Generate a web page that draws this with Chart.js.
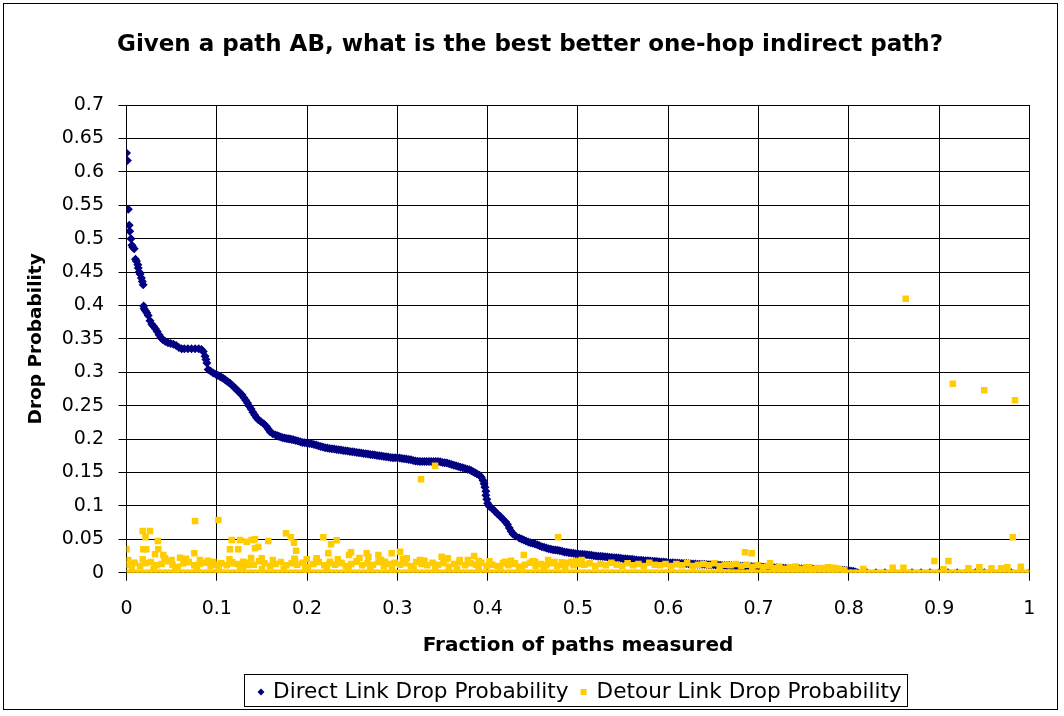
<!DOCTYPE html>
<html>
<head>
<meta charset="utf-8">
<script src="https://cdn.jsdelivr.net/npm/chart.js@4.4.0/dist/chart.umd.min.js"></script>
<style>
body { margin: 0; background: #fff; }
</style>
</head>
<body>
<canvas id="chart" width="1064" height="716"></canvas>
<script>
const chartTitle = 'Given a path AB, what is the best better one-hop indirect path?'
const xTitle = 'Fraction of paths measured'
const yTitle = 'Drop Probability'
const seriesNames = ['Direct Link Drop Probability', 'Detour Link Drop Probability']
const seriesColors = ['#000080', '#FFCC00']
const fontFamily = 'DejaVu Sans'

// direct link, sorted: [fraction of paths, drop probability]
const directPoints = [
    [0.000, 0.628], [0.001, 0.617], [0.002, 0.544], [0.003, 0.520], [0.0035, 0.511],
    [0.005, 0.500], [0.006, 0.490], [0.007, 0.487], [0.0085, 0.485], [0.010, 0.469],
    [0.011, 0.466], [0.0125, 0.461], [0.013, 0.456], [0.014, 0.450], [0.015, 0.447],
    [0.0165, 0.441], [0.0175, 0.436], [0.0185, 0.431], [0.019, 0.399], [0.0195, 0.395],
    [0.021, 0.392], [0.0225, 0.389], [0.024, 0.385], [0.026, 0.377], [0.028, 0.372],
    [0.030, 0.369], [0.032, 0.365], [0.034, 0.361], [0.036, 0.356], [0.038, 0.352],
    [0.040, 0.349], [0.043, 0.346], [0.046, 0.344], [0.049, 0.343], [0.052, 0.342],
    [0.055, 0.340], [0.058, 0.337], [0.061, 0.335], [0.064, 0.335], [0.068, 0.335],
    [0.072, 0.335], [0.076, 0.335], [0.080, 0.335], [0.083, 0.334], [0.085, 0.331],
    [0.087, 0.324], [0.088, 0.319], [0.089, 0.314], [0.0905, 0.304], [0.093, 0.302],
    [0.096, 0.299], [0.099, 0.297], [0.103, 0.294], [0.107, 0.291], [0.111, 0.287],
    [0.115, 0.283], [0.119, 0.278], [0.122, 0.274], [0.125, 0.270], [0.128, 0.266],
    [0.130, 0.262], [0.132, 0.258], [0.134, 0.254], [0.136, 0.249], [0.138, 0.245],
    [0.140, 0.240], [0.142, 0.236], [0.144, 0.232], [0.146, 0.229], [0.149, 0.226],
    [0.152, 0.223], [0.155, 0.219], [0.157, 0.215], [0.159, 0.211], [0.162, 0.208],
    [0.165, 0.206], [0.169, 0.204], [0.173, 0.202], [0.177, 0.201], [0.181, 0.200],
    [0.185, 0.199], [0.190, 0.197], [0.195, 0.195], [0.200, 0.194], [0.205, 0.193],
    [0.210, 0.191], [0.215, 0.189], [0.220, 0.187], [0.225, 0.186], [0.230, 0.185],
    [0.235, 0.184], [0.240, 0.183], [0.245, 0.182], [0.250, 0.181], [0.255, 0.180],
    [0.260, 0.179], [0.265, 0.178], [0.270, 0.177], [0.275, 0.176], [0.280, 0.175],
    [0.285, 0.174], [0.290, 0.173], [0.295, 0.172], [0.300, 0.172], [0.305, 0.171],
    [0.310, 0.170], [0.315, 0.169], [0.320, 0.167], [0.325, 0.1665], [0.330, 0.1665],
    [0.335, 0.1665], [0.340, 0.1665], [0.345, 0.1665], [0.350, 0.165], [0.355, 0.164],
    [0.360, 0.162], [0.365, 0.160], [0.370, 0.158], [0.375, 0.156], [0.380, 0.154],
    [0.384, 0.151], [0.388, 0.148], [0.391, 0.146], [0.393, 0.143], [0.395, 0.138],
    [0.396, 0.133], [0.397, 0.128], [0.398, 0.122], [0.398, 0.116], [0.399, 0.110],
    [0.400, 0.104], [0.402, 0.099], [0.405, 0.096], [0.408, 0.092], [0.411, 0.088],
    [0.414, 0.084], [0.417, 0.080], [0.420, 0.076], [0.422, 0.072], [0.424, 0.067],
    [0.426, 0.062], [0.428, 0.058], [0.431, 0.055], [0.435, 0.052], [0.440, 0.049],
    [0.445, 0.046], [0.450, 0.044], [0.455, 0.042], [0.460, 0.039], [0.465, 0.037],
    [0.470, 0.035], [0.475, 0.034], [0.480, 0.033], [0.485, 0.031], [0.490, 0.030],
    [0.495, 0.029], [0.500, 0.028], [0.505, 0.0275], [0.510, 0.027], [0.515, 0.026],
    [0.520, 0.025], [0.525, 0.0245], [0.530, 0.024], [0.535, 0.023], [0.540, 0.0225],
    [0.545, 0.022], [0.550, 0.021], [0.555, 0.0205], [0.560, 0.020], [0.565, 0.019],
    [0.570, 0.0185], [0.575, 0.018], [0.580, 0.0175], [0.585, 0.017], [0.590, 0.0165],
    [0.595, 0.016], [0.600, 0.015], [0.605, 0.0148], [0.610, 0.0144], [0.615, 0.014],
    [0.620, 0.0137], [0.625, 0.0134], [0.630, 0.013], [0.635, 0.0127], [0.640, 0.0125],
    [0.645, 0.012], [0.650, 0.0118], [0.655, 0.0115], [0.660, 0.011], [0.665, 0.0108],
    [0.670, 0.0105], [0.675, 0.010], [0.680, 0.0098], [0.685, 0.0095], [0.690, 0.0092],
    [0.695, 0.009], [0.700, 0.0086], [0.705, 0.0082], [0.710, 0.008], [0.715, 0.0076],
    [0.720, 0.0073], [0.725, 0.007], [0.730, 0.0066], [0.735, 0.0064], [0.740, 0.0062],
    [0.745, 0.006], [0.750, 0.0058], [0.755, 0.0056], [0.760, 0.0054], [0.765, 0.0052],
    [0.770, 0.005], [0.775, 0.0048], [0.780, 0.0045], [0.785, 0.0042], [0.790, 0.004],
    [0.795, 0.0035], [0.800, 0.003], [0.805, 0.002], [0.810, 0.000], [0.815, 0.000],
    [0.82, 0], [0.83, 0], [0.84, 0], [0.85, 0], [0.86, 0], [0.87, 0], [0.88, 0],
    [0.89, 0], [0.90, 0], [0.91, 0], [0.92, 0], [0.93, 0], [0.94, 0], [0.95, 0],
    [0.96, 0], [0.97, 0], [0.98, 0], [0.99, 0], [1.00, 0]
]

// direct link: further readings where the curve is densely packed
const directDense = [
    [0.101, 0.2955], [0.105, 0.2925], [0.109, 0.289], [0.113, 0.285], [0.117, 0.2805], [0.1205, 0.276],
    [0.1235, 0.272], [0.1265, 0.268], [0.1675, 0.205], [0.171, 0.203], [0.175, 0.2015], [0.179, 0.2005],
    [0.183, 0.1995], [0.1875, 0.198], [0.1925, 0.196], [0.1975, 0.1945], [0.2025, 0.1935], [0.2075, 0.192],
    [0.2125, 0.190], [0.2175, 0.188], [0.2225, 0.1865], [0.2275, 0.1855], [0.2325, 0.1845], [0.2375, 0.1835],
    [0.2425, 0.1825], [0.2475, 0.1815], [0.2525, 0.1805], [0.2575, 0.1795], [0.2625, 0.1785], [0.2675, 0.1775],
    [0.2725, 0.1765], [0.2775, 0.1755], [0.2825, 0.1745], [0.2875, 0.1735], [0.2925, 0.1725], [0.2975, 0.172],
    [0.3025, 0.1715], [0.3075, 0.1705], [0.3125, 0.1695], [0.3175, 0.168], [0.3225, 0.1668], [0.3275, 0.1665],
    [0.3325, 0.1665], [0.3375, 0.1665], [0.3425, 0.1665], [0.3475, 0.166], [0.3525, 0.1645], [0.3575, 0.163],
    [0.3625, 0.161], [0.3675, 0.159], [0.3725, 0.157], [0.3775, 0.155], [0.382, 0.1525], [0.386, 0.1495],
    [0.4375, 0.0505], [0.4425, 0.0475], [0.4475, 0.045], [0.4525, 0.043], [0.4575, 0.0405], [0.4625, 0.038],
    [0.4675, 0.036], [0.4725, 0.0345], [0.4775, 0.0335], [0.4825, 0.032], [0.4875, 0.0305], [0.4925, 0.0295],
    [0.4975, 0.0285], [0.5025, 0.0278], [0.5075, 0.0272], [0.5125, 0.0265], [0.5175, 0.0255], [0.5225, 0.0248],
    [0.5275, 0.0242], [0.5325, 0.0235], [0.5375, 0.0228], [0.5425, 0.0222], [0.5475, 0.0215], [0.5525, 0.0208],
    [0.5575, 0.0202], [0.5625, 0.0195], [0.5675, 0.0188], [0.5725, 0.0182], [0.5775, 0.0178], [0.5825, 0.0172],
    [0.5875, 0.0168], [0.5925, 0.0162], [0.5975, 0.0155], [0.6025, 0.0149], [0.6075, 0.0146], [0.6125, 0.0142],
    [0.6175, 0.0138], [0.6225, 0.0135], [0.6275, 0.0132], [0.6325, 0.0128], [0.6375, 0.0126], [0.6425, 0.0122],
    [0.6475, 0.0119], [0.6525, 0.0116], [0.6575, 0.0112], [0.6625, 0.0109], [0.6675, 0.0106], [0.6725, 0.0102],
    [0.6775, 0.0099], [0.6825, 0.0096], [0.6875, 0.0093], [0.6925, 0.0091], [0.6975, 0.0088], [0.7025, 0.0084],
    [0.7075, 0.0081], [0.7125, 0.0078], [0.7175, 0.0074], [0.7225, 0.0071], [0.7275, 0.0068], [0.7325, 0.0065],
    [0.7375, 0.0063], [0.7425, 0.0061], [0.7475, 0.0059], [0.7525, 0.0057], [0.7575, 0.0055], [0.7625, 0.0053],
    [0.7675, 0.0051], [0.7725, 0.0049], [0.7775, 0.0046], [0.7825, 0.0043], [0.7875, 0.0041], [0.7925, 0.0037],
    [0.7975, 0.0032], [0.8025, 0.0025], [0.8075, 0.001]
]

// detour link: paths whose best detour has no loss
const detourBase = [
    [0, 0], [0.005, 0], [0.01, 0], [0.015, 0], [0.02, 0], [0.025, 0], [0.03, 0], [0.035, 0], [0.04, 0], [0.045, 0],
    [0.05, 0], [0.055, 0], [0.06, 0], [0.065, 0], [0.07, 0], [0.075, 0], [0.08, 0], [0.085, 0], [0.09, 0], [0.095, 0],
    [0.1, 0], [0.105, 0], [0.11, 0], [0.115, 0], [0.12, 0], [0.125, 0], [0.13, 0], [0.135, 0], [0.14, 0], [0.145, 0],
    [0.15, 0], [0.155, 0], [0.16, 0], [0.165, 0], [0.17, 0], [0.175, 0], [0.18, 0], [0.185, 0], [0.19, 0], [0.195, 0],
    [0.2, 0], [0.205, 0], [0.21, 0], [0.215, 0], [0.22, 0], [0.225, 0], [0.23, 0], [0.235, 0], [0.24, 0], [0.245, 0],
    [0.25, 0], [0.255, 0], [0.26, 0], [0.265, 0], [0.27, 0], [0.275, 0], [0.28, 0], [0.285, 0], [0.29, 0], [0.295, 0],
    [0.3, 0], [0.305, 0], [0.31, 0], [0.315, 0], [0.32, 0], [0.325, 0], [0.33, 0], [0.335, 0], [0.34, 0], [0.345, 0],
    [0.35, 0], [0.355, 0], [0.36, 0], [0.365, 0], [0.37, 0], [0.375, 0], [0.38, 0], [0.385, 0], [0.39, 0], [0.395, 0],
    [0.4, 0], [0.405, 0], [0.41, 0], [0.415, 0], [0.42, 0], [0.425, 0], [0.43, 0], [0.435, 0], [0.44, 0], [0.445, 0],
    [0.45, 0], [0.455, 0], [0.46, 0], [0.465, 0], [0.47, 0], [0.475, 0], [0.48, 0], [0.485, 0], [0.49, 0], [0.495, 0],
    [0.5, 0], [0.505, 0], [0.51, 0], [0.515, 0], [0.52, 0], [0.525, 0], [0.53, 0], [0.535, 0], [0.54, 0], [0.545, 0],
    [0.55, 0], [0.555, 0], [0.56, 0], [0.565, 0], [0.57, 0], [0.575, 0], [0.58, 0], [0.585, 0], [0.59, 0], [0.595, 0],
    [0.6, 0], [0.605, 0], [0.61, 0], [0.615, 0], [0.62, 0], [0.625, 0], [0.63, 0], [0.635, 0], [0.64, 0], [0.645, 0],
    [0.65, 0], [0.655, 0], [0.66, 0], [0.665, 0], [0.67, 0], [0.675, 0], [0.68, 0], [0.685, 0], [0.69, 0], [0.695, 0],
    [0.7, 0], [0.705, 0], [0.71, 0], [0.715, 0], [0.72, 0], [0.725, 0], [0.73, 0], [0.735, 0], [0.74, 0], [0.745, 0],
    [0.75, 0], [0.755, 0], [0.76, 0], [0.765, 0], [0.77, 0], [0.775, 0], [0.78, 0], [0.785, 0], [0.79, 0], [0.795, 0],
    [0.8, 0], [0.805, 0], [0.81, 0], [0.815, 0], [0.82, 0], [0.825, 0], [0.83, 0], [0.835, 0], [0.84, 0], [0.845, 0],
    [0.85, 0], [0.855, 0], [0.86, 0], [0.865, 0], [0.87, 0], [0.875, 0], [0.88, 0], [0.885, 0], [0.89, 0], [0.895, 0],
    [0.9, 0], [0.905, 0], [0.91, 0], [0.915, 0], [0.92, 0], [0.925, 0], [0.93, 0], [0.935, 0], [0.94, 0], [0.945, 0],
    [0.95, 0], [0.955, 0], [0.96, 0], [0.965, 0], [0.97, 0], [0.975, 0], [0.98, 0], [0.985, 0], [0.99, 0], [0.995, 0],
    [1, 0]
]

// detour link: small losses
const detourLow = [
    [0.003, 0.012], [0.009, 0.015], [0.015, 0.010], [0.021, 0.014], [0.027, 0.016], [0.033, 0.011],
    [0.039, 0.013], [0.045, 0.017], [0.051, 0.012], [0.057, 0.009], [0.063, 0.014], [0.069, 0.016],
    [0.075, 0.011], [0.081, 0.013], [0.087, 0.015], [0.093, 0.010], [0.099, 0.012],
    [0.105, 0.014], [0.111, 0.011], [0.117, 0.016], [0.123, 0.013], [0.129, 0.009], [0.135, 0.015],
    [0.141, 0.012], [0.147, 0.017], [0.153, 0.014], [0.159, 0.010], [0.165, 0.013], [0.171, 0.016],
    [0.177, 0.011], [0.183, 0.014], [0.189, 0.012], [0.195, 0.015], [0.201, 0.009],
    [0.207, 0.013], [0.213, 0.016], [0.219, 0.011], [0.225, 0.014], [0.231, 0.012], [0.237, 0.015],
    [0.243, 0.010], [0.249, 0.013], [0.255, 0.017], [0.261, 0.011], [0.267, 0.014], [0.273, 0.012],
    [0.279, 0.016], [0.285, 0.010], [0.291, 0.013], [0.297, 0.015],
    [0.303, 0.012], [0.309, 0.014], [0.315, 0.010], [0.321, 0.016], [0.327, 0.013], [0.333, 0.011],
    [0.339, 0.015], [0.345, 0.012], [0.351, 0.014], [0.357, 0.009], [0.363, 0.013], [0.369, 0.016],
    [0.375, 0.011], [0.381, 0.014], [0.387, 0.012], [0.393, 0.015], [0.399, 0.010],
    [0.405, 0.012], [0.411, 0.010], [0.417, 0.014], [0.423, 0.011], [0.429, 0.013], [0.435, 0.009],
    [0.441, 0.012], [0.447, 0.015], [0.453, 0.010], [0.459, 0.013], [0.465, 0.011], [0.471, 0.014],
    [0.477, 0.010], [0.483, 0.012], [0.489, 0.015], [0.495, 0.011], [0.501, 0.013],
    [0.507, 0.012], [0.513, 0.014], [0.519, 0.010], [0.525, 0.013], [0.531, 0.011], [0.537, 0.015],
    [0.543, 0.012], [0.549, 0.010], [0.555, 0.014], [0.561, 0.011], [0.567, 0.013], [0.573, 0.010],
    [0.579, 0.015], [0.585, 0.012], [0.591, 0.011], [0.597, 0.013],
    [0.603, 0.010], [0.609, 0.013], [0.615, 0.011], [0.621, 0.014], [0.627, 0.010], [0.633, 0.012],
    [0.639, 0.013], [0.645, 0.011], [0.651, 0.014], [0.657, 0.010], [0.663, 0.012], [0.669, 0.011],
    [0.675, 0.013], [0.681, 0.010], [0.687, 0.012], [0.693, 0.009], [0.699, 0.011],
    [0.705, 0.008], [0.711, 0.010], [0.717, 0.007], [0.723, 0.009], [0.729, 0.006], [0.735, 0.008],
    [0.741, 0.009], [0.747, 0.006], [0.753, 0.008], [0.759, 0.005], [0.765, 0.007], [0.771, 0.006],
    [0.777, 0.008], [0.783, 0.005], [0.789, 0.006], [0.795, 0.004]
]

// detour link: a second layer of small losses on the left half
const detourMid = [
    [0.006, 0.006], [0.018, 0.020], [0.030, 0.006], [0.042, 0.019], [0.054, 0.005], [0.066, 0.021],
    [0.078, 0.006], [0.090, 0.018], [0.102, 0.005], [0.114, 0.020], [0.126, 0.006], [0.138, 0.022],
    [0.150, 0.005], [0.162, 0.019], [0.174, 0.006], [0.186, 0.021], [0.198, 0.005], [0.210, 0.018],
    [0.222, 0.006], [0.234, 0.020], [0.246, 0.005], [0.258, 0.022], [0.270, 0.006], [0.282, 0.019],
    [0.294, 0.005], [0.306, 0.021], [0.318, 0.006], [0.330, 0.018], [0.342, 0.005], [0.354, 0.020],
    [0.366, 0.006], [0.378, 0.019], [0.390, 0.005], [0.402, 0.017], [0.414, 0.006], [0.426, 0.018],
    [0.438, 0.005], [0.450, 0.017], [0.462, 0.006], [0.474, 0.016], [0.486, 0.005], [0.498, 0.017]
]

// detour link: larger losses
const detourHigh = [
    [0.000, 0.035], [0.002, 0.019], [0.004, 0.0126], [0.018, 0.0625], [0.026, 0.0625], [0.021, 0.053],
    [0.0186, 0.035], [0.022, 0.035], [0.0346, 0.0475], [0.0352, 0.035], [0.0316, 0.0276], [0.0408, 0.0265],
    [0.0426, 0.0216], [0.050, 0.019], [0.0593, 0.0225], [0.0751, 0.029], [0.0759, 0.0775], [0.0814, 0.019],
    [0.0961, 0.0165], [0.1017, 0.079], [0.1146, 0.035], [0.1238, 0.035], [0.1165, 0.049], [0.1257, 0.049],
    [0.1331, 0.0464], [0.1387, 0.049], [0.1423, 0.050], [0.1423, 0.0366], [0.146, 0.039], [0.157, 0.0475],
    [0.1165, 0.014], [0.1294, 0.0165], [0.135, 0.0115], [0.1498, 0.0216], [0.1767, 0.059], [0.182, 0.053],
    [0.1855, 0.045], [0.1878, 0.033], [0.1866, 0.019], [0.1996, 0.020], [0.2107, 0.0216], [0.218, 0.053],
    [0.2265, 0.0425], [0.2328, 0.0485], [0.2235, 0.029], [0.2254, 0.0165], [0.2384, 0.014], [0.2465, 0.0265],
    [0.2487, 0.0305], [0.255, 0.0165], [0.266, 0.029], [0.268, 0.024], [0.279, 0.0265], [0.2808, 0.019],
    [0.2863, 0.0165], [0.2937, 0.029], [0.303, 0.0315], [0.3104, 0.0216], [0.325, 0.019], [0.3262, 0.140],
    [0.3417, 0.160], [0.349, 0.024], [0.356, 0.0215], [0.369, 0.019], [0.385, 0.025], [0.390, 0.0175],
    [0.419, 0.0165], [0.4303, 0.014], [0.440, 0.0265], [0.4525, 0.0165], [0.467, 0.019], [0.478, 0.053],
    [0.482, 0.0155], [0.493, 0.0165], [0.504, 0.019], [0.685, 0.0305], [0.6925, 0.029], [0.7128, 0.014],
    [0.7405, 0.009], [0.7563, 0.008], [0.770, 0.0066], [0.783, 0.0075], [0.816, 0.0055], [0.8487, 0.0075],
    [0.8605, 0.0075], [0.863, 0.410], [0.8948, 0.0175], [0.9103, 0.0175], [0.9048, 0.005], [0.9152, 0.2827],
    [0.9325, 0.0066], [0.9446, 0.008], [0.950, 0.273], [0.958, 0.0066], [0.9687, 0.0066], [0.9756, 0.008],
    [0.9816, 0.053], [0.984, 0.258], [0.9905, 0.009]
]

const toXY = pts => pts.map(p => ({x: p[0], y: p[1]}))

// title, legend box and outer frame drawn on top of the chart
const frame = {
    id: 'frame',
    afterDraw(chart) {
        const ctx = chart.ctx
        ctx.save()
        ctx.strokeStyle = '#000'
        ctx.lineWidth = 1
        ctx.strokeRect(3.5, 3.5, 1054, 706)

        ctx.fillStyle = '#000'
        ctx.textAlign = 'center'
        ctx.textBaseline = 'middle'
        ctx.font = 'bold 23px "' + fontFamily + '"'
        ctx.fillText(chartTitle, 530, 45)

        ctx.font = '21.6px "' + fontFamily + '"'
        ctx.textAlign = 'left'
        const w1 = ctx.measureText(seriesNames[0]).width
        const w2 = ctx.measureText(seriesNames[1]).width
        const boxW = Math.round(28 + w1 + 28 + w2 + 6)
        const left = Math.round(575.5 - boxW / 2) + 0.5
        const top = 674.5, boxH = 32, cy = 692
        ctx.strokeRect(left, top, boxW, boxH)

        // diamond marker
        let mx = left + 16.5
        ctx.fillStyle = seriesColors[0]
        ctx.beginPath()
        ctx.moveTo(mx, cy - 3.5); ctx.lineTo(mx + 3.5, cy); ctx.lineTo(mx, cy + 3.5); ctx.lineTo(mx - 3.5, cy)
        ctx.closePath(); ctx.fill()
        ctx.fillStyle = '#000'
        ctx.fillText(seriesNames[0], left + 28.5, cy)

        // square marker
        mx = left + 28.5 + w1 + 15
        ctx.fillStyle = seriesColors[1]
        ctx.fillRect(mx - 3, cy - 3, 6, 6)
        ctx.fillStyle = '#000'
        ctx.fillText(seriesNames[1], mx + 13, cy)
        ctx.restore()
    }
}

const tickLabel = v => String(+v.toFixed(2))

new Chart(document.getElementById('chart').getContext('2d'), {
    type: 'scatter',
    data: {
        datasets: [{
            label: seriesNames[0],
            data: toXY(directPoints.concat(directDense)),
            pointStyle: 'rectRot',
            pointRadius: 4.5,
            pointBorderWidth: 0,
            backgroundColor: seriesColors[0],
            borderColor: seriesColors[0],
            order: 1
        }, {
            label: seriesNames[1],
            data: toXY(detourBase.concat(detourLow, detourMid, detourHigh)),
            pointStyle: 'rect',
            pointRadius: 4.6,
            pointBorderWidth: 0,
            backgroundColor: seriesColors[1],
            borderColor: seriesColors[1],
            order: 0
        }]
    },
    options: {
        responsive: false,
        animation: false,
        layout: { padding: { left: 4, right: 34.6, top: 105, bottom: 50 } },
        plugins: {
            legend: { display: false },
            title: { display: false },
            tooltip: { enabled: false }
        },
        scales: {
            x: {
                type: 'linear',
                min: 0,
                max: 1,
                ticks: { stepSize: 0.1, color: '#000', padding: 17, font: { family: fontFamily, size: 19 }, callback: tickLabel },
                grid: { color: '#000', lineWidth: 1, tickLength: 8, tickColor: '#000' },
                border: { color: '#000', width: 1 },
                title: { display: true, text: xTitle, color: '#000', font: { family: fontFamily, size: 20, weight: 'bold' }, padding: { top: 0, bottom: 8 } },
                afterFit: (scale) => { scale.height = 93.3 }
            },
            y: {
                type: 'linear',
                min: 0,
                max: 0.7,
                ticks: { stepSize: 0.05, color: '#000', padding: 14.5, font: { family: fontFamily, size: 19 }, callback: tickLabel },
                grid: { color: '#000', lineWidth: 1, tickLength: 8, tickColor: '#000' },
                border: { color: '#000', width: 1 },
                title: { display: true, text: yTitle, color: '#000', font: { family: fontFamily, size: 18.5, weight: 'bold' }, padding: { top: 21, bottom: 0 } },
                afterFit: (scale) => { scale.width = 122.5 }
            }
        }
    },
    plugins: [frame]
})
</script>
</body>
</html>
